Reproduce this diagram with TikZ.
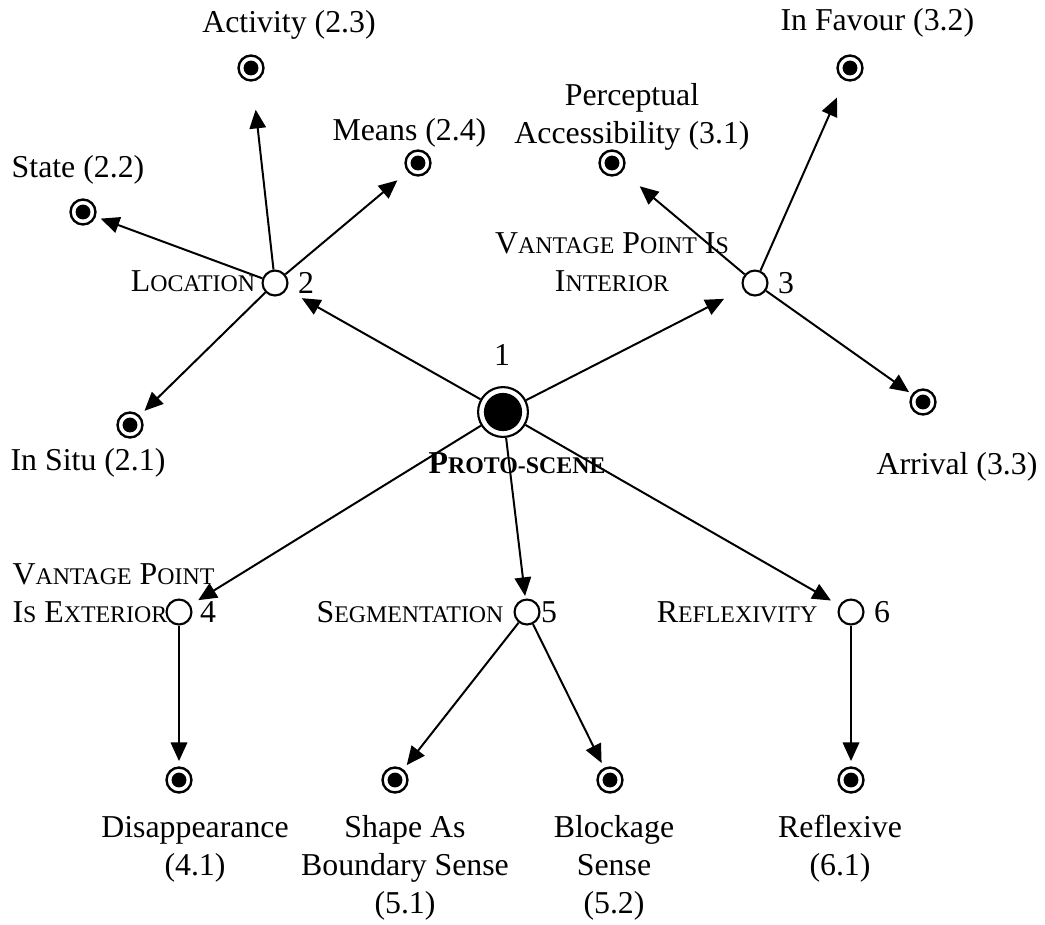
\documentclass[tikz,border=0pt]{standalone}
\usepackage{fontspec}
\setmainfont{Liberation Serif}
\usetikzlibrary{arrows.meta}

\newcommand{\fsc}[2]{#1{\fontsize{9}{10}\selectfont #2}}

\tikzset{
  hub/.style={circle, draw, line width=0.8pt, fill=white, minimum size=9.4pt, inner sep=0pt},
  leaf/.style={circle, draw, line width=0.9pt, minimum size=9.4pt, inner sep=0pt,
    path picture={\fill (path picture bounding box.center) circle (2.8pt);}},
  proto/.style={circle, draw, line width=0.8pt, minimum size=18.8pt, inner sep=0pt,
    path picture={\fill (path picture bounding box.center) circle (7.2pt);}},
  link/.style={line width=0.75pt, -{Triangle[length=7pt, width=6.2pt]}},
  txt/.style={font=\fontsize{12}{14.3}\selectfont, inner sep=0pt}
}

\begin{document}
\begin{tikzpicture}[x=0.377pt, y=-0.377pt]
    \useasboundingbox (0,0) rectangle (1045,924);

    % hubs
    \node[proto] (n1) at (503,412) {};
    \node[hub] (n2) at (275,283) {};
    \node[hub] (n3) at (755,283) {};
    \node[hub] (n4) at (179,612) {};
    \node[hub] (n5) at (527,612) {};
    \node[hub] (n6) at (851,612) {};

    % senses
    \node[leaf] (s21) at (130,425) {};
    \node[leaf] (s22) at (83,212) {};
    \node[leaf] (s23) at (251,68) {};
    \node[leaf] (s24) at (418,163) {};
    \node[leaf] (s31) at (612,163) {};
    \node[leaf] (s32) at (850,68) {};
    \node[leaf] (s33) at (923,402) {};
    \node[leaf] (s41) at (179,780) {};
    \node[leaf] (s51) at (395,780) {};
    \node[leaf] (s52) at (610,780) {};
    \node[leaf] (s61) at (851,780) {};

    % hub labels
    \node[txt] (l1) at (502,355) {1};
    \node[txt] (lproto) at (517,463) {\textbf{\fsc{P}{ROTO-SCENE}}};
    \node[txt] (lloc) at (193,281) {\fsc{L}{OCATION}};
    \node[txt] (l2) at (306,283) {2};
    \node[txt, align=center] (lvpi) at (612,262) {\fsc{V}{ANTAGE} \fsc{P}{OINT} \fsc{I}{S}\\\fsc{I}{NTERIOR}};
    \node[txt] (l3) at (786,283) {3};
    \node[txt, align=left, anchor=west] (lvpe) at (12,593) {\fsc{V}{ANTAGE} \fsc{P}{OINT}\\\fsc{I}{S} \fsc{E}{XTERIOR}};
    \node[txt] (l4) at (208,612) {4};
    \node[txt] (lseg) at (410,612) {\fsc{S}{EGMENTATION}};
    \node[txt] (l5) at (549,612) {5};
    \node[txt] (lref) at (737,612) {\fsc{R}{EFLEXIVITY}};
    \node[txt] (l6) at (882,612) {6};

    % sense labels
    \node[txt] (t21) at (88,463) {In Situ (2.1)};
    \node[txt] (t22) at (78,170) {State (2.2)};
    \node[txt] (t23) at (289,25) {Activity (2.3)};
    \node[txt, anchor=west] (t24) at (332,133) {Means (2.4)};
    \node[txt, align=center] (t31) at (632,117) {Perceptual\\Accessibility (3.1)};
    \node[txt, anchor=west] (t32) at (780,23) {In Favour (3.2)};
    \node[txt] (t33) at (957,467) {Arrival (3.3)};
    \node[txt, align=center] (t41) at (195,849) {Disappearance\\(4.1)};
    \node[txt, align=center] (t51) at (405,868) {Shape As\\Boundary Sense\\(5.1)};
    \node[txt, align=center] (t52) at (614,868) {Blockage\\Sense\\(5.2)};
    \node[txt, align=center] (t61) at (840,849) {Reflexive\\(6.1)};

    % from the proto-scene
    \draw[link, shorten >=6.5pt] (n1) -- (n2);
    \draw[link, shorten >=8pt] (n1) -- (n3);
    \draw[link, shorten >=3.4pt] (n1) -- (n4);
    \draw[link, shorten >=1pt] (n1) -- (n5);
    \draw[link, shorten >=3.6pt] (n1) -- (n6);

    % to the senses
    \draw[link, shorten >=2.5pt] (n2) -- (s21);
    \draw[link, shorten >=2pt] (n2) -- (s22);
    \draw[link, shorten >=10.7pt] (n2) -- (s23);
    \draw[link, shorten >=5pt] (n2) -- (s24);
    \draw[link, shorten >=8.5pt] (n3) -- (s31);
    \draw[link, shorten >=7pt] (n3) -- (s32);
    \draw[link, shorten >=1.3pt] (n3) -- (s33);
    \draw[link, shorten >=2pt] (n4) -- (s41);
    \draw[link, shorten >=2pt] (n5) -- (s51);
    \draw[link, shorten >=2pt] (n5) -- (s52);
    \draw[link, shorten >=2pt] (n6) -- (s61);
\end{tikzpicture}
\end{document}
